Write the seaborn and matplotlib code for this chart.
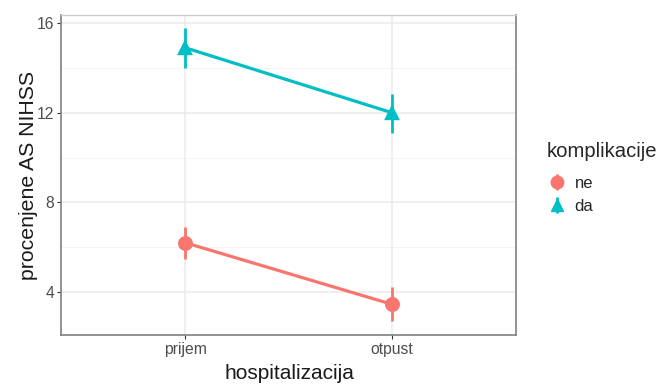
import matplotlib
matplotlib.use("Agg")
import matplotlib.pyplot as plt
from matplotlib.lines import Line2D
from matplotlib.legend_handler import HandlerTuple
import seaborn as sns
import pandas as pd

# data
categories = ["prijem", "otpust"]
groups = ["ne", "da"]
ne_mean = [6.2, 3.45]
ne_low = [5.45, 2.7]
ne_high = [6.9, 4.2]
da_mean = [14.9, 12.0]
da_low = [14.0, 11.1]
da_high = [15.8, 12.85]
yticks = [4, 8, 12, 16]

colors = {"ne": "#F8766D", "da": "#00BFC4"}
markers = {"ne": "o", "da": "^"}

df = pd.DataFrame({
    "hospitalizacija": categories * 2,
    "komplikacije": ["ne"] * 2 + ["da"] * 2,
    "mean": ne_mean + da_mean,
    "low": ne_low + da_low,
    "high": ne_high + da_high,
})

sns.set_theme(style="white")
plt.rcParams["font.family"] = ["Liberation Sans", "DejaVu Sans"]

fig = plt.figure(figsize=(6.61, 3.84), dpi=100)
ax = fig.add_axes([61 / 661, 1 - 335 / 384, (516 - 61) / 661, (335 - 15) / 384])

# grid
for y in [6, 10, 14]:
    ax.axhline(y, color="#F2F2F2", lw=0.6, zorder=0)
for y in yticks:
    ax.axhline(y, color="#EBEBEB", lw=1.1, zorder=0)
for x in range(len(categories)):
    ax.axvline(x, color="#EBEBEB", lw=1.1, zorder=0)

sns.pointplot(data=df, x="hospitalizacija", y="mean", hue="komplikacije",
              order=categories, hue_order=groups, palette=colors,
              markers=[markers[g] for g in groups], errorbar=None,
              linewidth=2.3, markersize=9, ax=ax, legend=False, zorder=3)

for g in groups:
    sub = df[df["komplikacije"] == g].set_index("hospitalizacija").loc[categories]
    ax.vlines(range(len(categories)), sub["low"], sub["high"],
              color=colors[g], lw=2.0, zorder=2)

ax.set_xlim(-0.6, 1.6)
ax.set_ylim(2.08, 16.36)
ax.set_yticks(yticks)
ax.set_yticklabels([str(t) for t in yticks])
ax.tick_params(axis="both", which="major", length=3, width=0.8, color="#333333",
               labelsize=11.3, labelcolor="#4D4D4D", pad=2, direction="out")
ax.tick_params(axis="both", bottom=True, left=True)

for side in ["left", "bottom", "right"]:
    ax.spines[side].set_color("#7F7F7F")
    ax.spines[side].set_linewidth(1.2)
ax.spines["top"].set_color("#CCCCCC")
ax.spines["top"].set_linewidth(1.0)

ax.set_xlabel("hospitalizacija", fontsize=15, color="#1A1A1A")
ax.set_ylabel("procenjene AS NIHSS", fontsize=15.3, color="#1A1A1A")
ax.xaxis.label.set_va("center")
ax.yaxis.label.set_va("center")
ax.xaxis.set_label_coords(0.501, -0.119)
ax.yaxis.set_label_coords(-0.0725, 0.5)

# legend
handles = []
for g in groups:
    pt = Line2D([], [], color=colors[g], marker=markers[g], markersize=9, linestyle="none")
    bar = Line2D([], [], color=colors[g], marker="|", markersize=12, markeredgewidth=2,
                 linestyle="none")
    handles.append((pt, bar))
leg = fig.legend(handles, groups, title="komplikacije",
                 handler_map={tuple: HandlerTuple(ndivide=1, pad=0)},
                 loc="upper left", bbox_to_anchor=(547 / 661, 1 - 142 / 384),
                 frameon=False, fontsize=12, title_fontsize=14.6,
                 handlelength=1.2, handletextpad=0.45, labelspacing=0.45,
                 borderaxespad=0, borderpad=0)
leg._legend_box.align = "left"
leg._legend_box.sep = 11

fig.savefig("out.png", dpi=100)
